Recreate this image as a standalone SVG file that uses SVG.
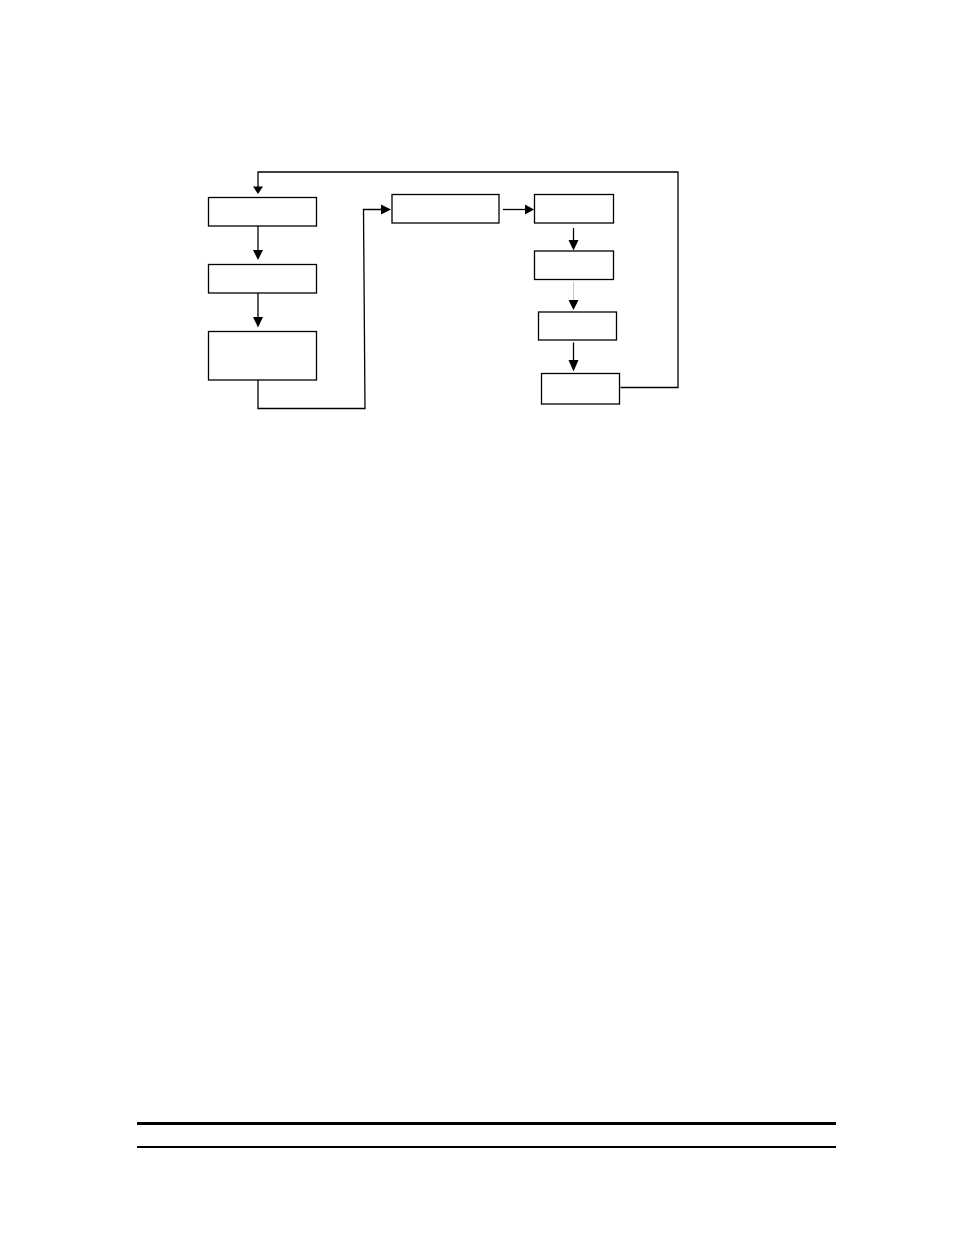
<svg xmlns="http://www.w3.org/2000/svg" width="954" height="1235" viewBox="0 0 954 1235">
<defs>
<style>
.box{fill:#fff;stroke:#000;stroke-width:1.3}
.ln{fill:none;stroke:#000;stroke-width:1.3}
.dot{fill:none;stroke:#888;stroke-width:1;stroke-dasharray:1 1}
.ah{fill:#000}
</style>
</defs>
<rect width="954" height="1235" fill="#fff"/>
<g id="node1"><rect class="box" x="208.5" y="197.5" width="108" height="28.5"/></g>
<g id="node2"><rect class="box" x="208.5" y="264.5" width="108" height="28.5"/></g>
<g id="node3"><rect class="box" x="208.5" y="331.5" width="108" height="48.5"/></g>
<g id="node4"><rect class="box" x="392" y="194.5" width="107" height="28.5"/></g>
<g id="node5"><rect class="box" x="534.5" y="194.5" width="79" height="28.5"/></g>
<g id="node6"><rect class="box" x="534.5" y="251" width="79" height="28.5"/></g>
<g id="node7"><rect class="box" x="538.5" y="312" width="78" height="28"/></g>
<g id="node8"><rect class="box" x="541.5" y="373.5" width="78" height="30.5"/></g>
<g id="connectors">
<polyline class="ln" points="620.5,387.5 678,387.5 678,172 258,172 258,188"/>
<polygon class="ah" points="253,186.5 263,186.5 258,194"/>
<line class="ln" x1="258" y1="226" x2="258" y2="251"/>
<polygon class="ah" points="253,250 263,250 258,260"/>
<line class="ln" x1="258" y1="293" x2="258" y2="318"/>
<polygon class="ah" points="253,317 263,317 258,327.5"/>
<polyline class="ln" points="258,380 258,408.5 365,408.5 363.5,209.5 382,209.5"/>
<polygon class="ah" points="381,204.5 381,214.5 391,209.5"/>
<line class="ln" x1="503" y1="209.5" x2="526" y2="209.5"/>
<polygon class="ah" points="525,204.5 525,214.5 534,209.5"/>
<line class="ln" x1="573.5" y1="228" x2="573.5" y2="241"/>
<polygon class="ah" points="568.5,240 578.5,240 573.5,250.5"/>
<line class="dot" x1="573.5" y1="282.5" x2="573.5" y2="301"/>
<polygon class="ah" points="568.5,300 578.5,300 573.5,310"/>
<line class="ln" x1="573.5" y1="342.5" x2="573.5" y2="361"/>
<polygon class="ah" points="568.5,360 578.5,360 573.5,371.5"/>
</g>
<line x1="137" y1="1123.5" x2="836" y2="1123.5" stroke="#000" stroke-width="3"/>
<line x1="137" y1="1147" x2="836" y2="1147" stroke="#000" stroke-width="2"/>
</svg>
